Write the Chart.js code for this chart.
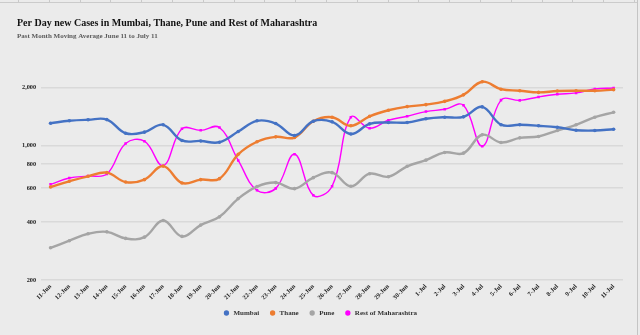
<!DOCTYPE html>
<html>
<head>
<meta charset="utf-8">
<script src="https://cdn.jsdelivr.net/npm/chart.js@4.4.1/dist/chart.umd.min.js"></script>
<style>
  html, body { margin: 0; padding: 0; background: #ebebeb; }
  .wrap { position: relative; width: 640px; height: 335px; overflow: hidden; }
  /* sheet frame lines around the chart object */
  .frame-top {
    position: absolute; left: 0; top: 0; width: 638px; height: 2px;
    border-bottom: 1px solid #cbcbcb;
    background: repeating-linear-gradient(to right, #c9c9c9 0 1px, transparent 1px 30.8px);
    background-position: 18px 0;
  }
  .frame-right { position: absolute; left: 637px; top: 0; width: 1px; height: 335px; background: #c4c4c4; }
  canvas { position: absolute; left: 0; top: 0; }
</style>
</head>
<body>
<div class="wrap">
  <canvas id="myChart" width="640" height="335"></canvas>
  <div class="frame-top"></div>
  <div class="frame-right"></div>
</div>
<script>
const days = [
  "11-Jun", "12-Jun", "13-Jun", "14-Jun", "15-Jun", "16-Jun", "17-Jun", "18-Jun",
  "19-Jun", "20-Jun", "21-Jun", "22-Jun", "23-Jun", "24-Jun", "25-Jun", "26-Jun",
  "27-Jun", "28-Jun", "29-Jun", "30-Jun", "1-Jul", "2-Jul", "3-Jul", "4-Jul",
  "5-Jul", "6-Jul", "7-Jul", "8-Jul", "9-Jul", "10-Jul", "11-Jul",
];

const mumbai = [1306, 1345, 1361, 1365, 1159, 1174, 1282, 1063, 1057, 1041, 1183, 1345, 1302, 1128, 1338, 1328,
  1148, 1297, 1318, 1318, 1378, 1404, 1410, 1589, 1284, 1282, 1267, 1245, 1202, 1197, 1216];
const thane = [609, 652, 692, 723, 646, 665, 782, 639, 665, 673, 900, 1047, 1110, 1101, 1338, 1404,
  1267, 1420, 1526, 1594, 1632, 1698, 1835, 2148, 1964, 1929, 1890, 1922, 1929, 1929, 1953];
const pune = [294, 320, 348, 356, 329, 334, 408, 337, 386, 426, 530, 612, 642, 597, 681, 723,
  614, 714, 689, 780, 840, 921, 913, 1138, 1038, 1097, 1115, 1197, 1282, 1404, 1489];
const restOfState = [629, 678, 694, 711, 1025, 1054, 786, 1222, 1200, 1241, 837, 585, 599, 902, 551, 614,
  1404, 1231, 1354, 1420, 1502, 1544, 1619, 993, 1723, 1718, 1790, 1847, 1878, 1969, 1993];

const yTicks = [200, 400, 600, 800, 1000, 2000];

const serif = "'Liberation Serif', 'Times New Roman', serif";

function series(label, values, color, width, style) {
  return {
    label: label,
    data: values,
    borderColor: color,
    backgroundColor: color,
    borderWidth: width,
    tension: 0.4,
    pointRadius: 1.8,
    pointStyle: style,
    pointBorderWidth: 0,
    pointBackgroundColor: color,
  };
}

const ctx = document.getElementById("myChart");

new Chart(ctx, {
  type: "line",
  data: {
    labels: days,
    datasets: [
      series("Mumbai", mumbai, "#4472c4", 2.4, "circle"),
      series("Thane", thane, "#ed7d31", 2.4, "circle"),
      series("Pune", pune, "#a5a5a5", 2.4, "circle"),
      series("Rest of Maharashtra", restOfState, "#ff00ff", 1.4, "rect"),
    ],
  },
  options: {
    responsive: false,
    animation: false,
    layout: { padding: { left: 17, right: 17, top: 11.5, bottom: 8.5 } },
    scales: {
      x: {
        offset: true,
        grid: { display: false, drawTicks: false },
        border: { display: false },
        afterFit: (axis) => {
          axis.height = 19.5; // keep the rotated date labels tight above the legend
        },
        ticks: {
          autoSkip: false,
          maxRotation: 45,
          minRotation: 45,
          padding: 3,
          color: "#222",
          font: { family: serif, size: 6.3, weight: "bold" },
        },
      },
      y: {
        type: "logarithmic",
        min: 200,
        max: 3000,
        afterBuildTicks: (axis) => {
          axis.ticks = yTicks.map((v) => ({ value: v }));
        },
        grid: { color: "#d9d9d9", lineWidth: 1.5, drawTicks: false },
        border: { display: false },
        ticks: {
          padding: 5,
          color: "#222",
          font: { family: serif, size: 6.3, weight: "bold" },
          callback: (v) => Number(v).toLocaleString("en-US"),
        },
      },
    },
    plugins: {
      title: {
        display: true,
        align: "start",
        text: "Per Day new Cases in Mumbai, Thane, Pune and Rest of Maharashtra",
        color: "#111",
        font: { family: serif, size: 10, weight: "bold" },
        padding: { top: 6, bottom: 2 },
      },
      subtitle: {
        display: true,
        align: "start",
        text: "Past Month Moving Average June 11 to July 11",
        color: "#5a5a5a",
        font: { family: serif, size: 7, weight: "bold" },
        padding: { top: 0, bottom: 13.9 },
      },
      legend: {
        position: "bottom",
        labels: {
          usePointStyle: true,
          pointStyle: "circle",
          boxWidth: 7,
          boxHeight: 3.75,
          padding: 10,
          color: "#333",
          font: { family: serif, size: 7, weight: "bold" },
          generateLabels: (chart) =>
            Chart.defaults.plugins.legend.labels.generateLabels(chart).map((item) => ({
              ...item,
              lineWidth: 0,
              pointStyle: "circle",
            })),
        },
      },
      tooltip: { enabled: false },
    },
  },
});
</script>
</body>
</html>
